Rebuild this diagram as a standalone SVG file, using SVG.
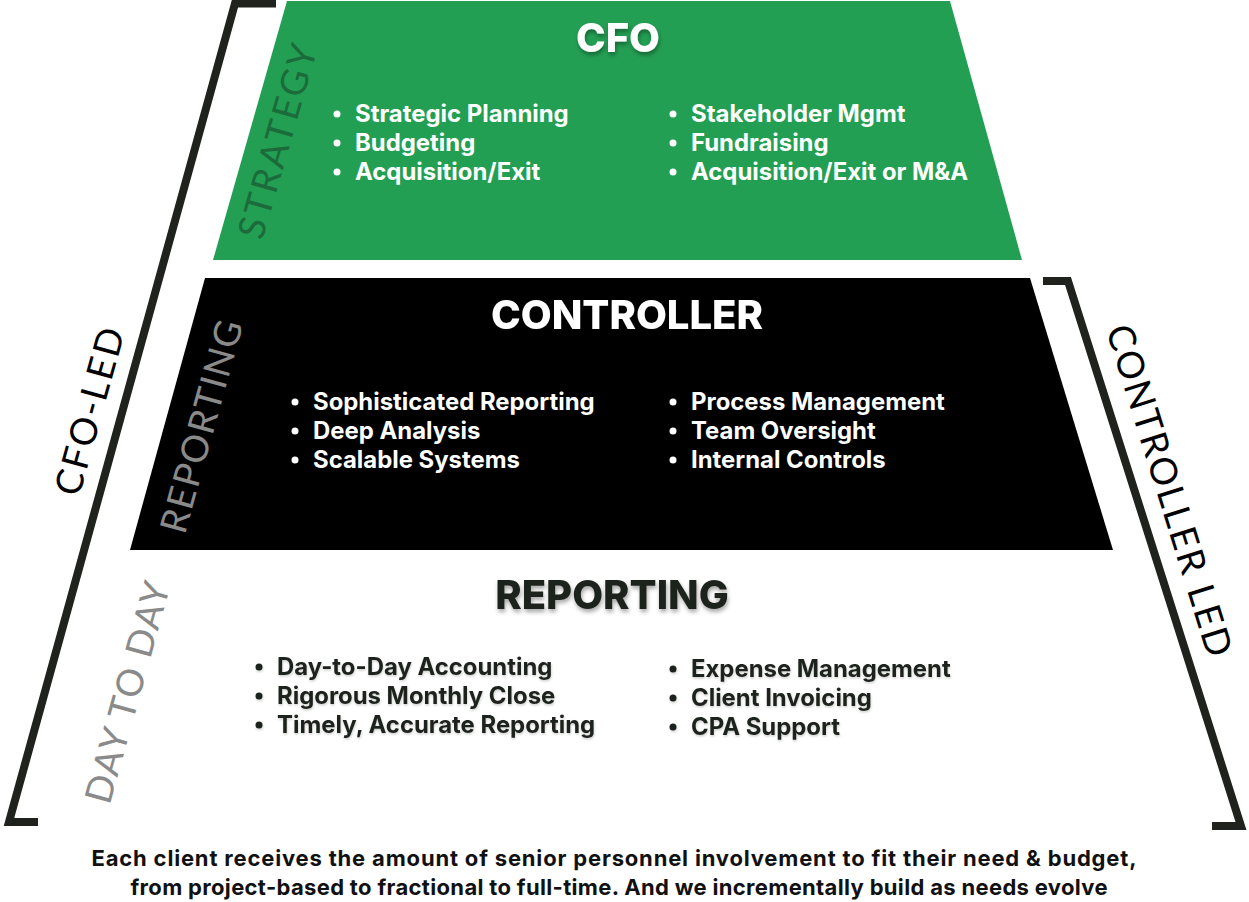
<svg xmlns="http://www.w3.org/2000/svg" width="1249" height="902" viewBox="0 0 1249 902">
<defs>
<filter id="sh" x="-10%" y="-30%" width="120%" height="170%">
<feDropShadow dx="1" dy="3" stdDeviation="2" flood-color="#000" flood-opacity="0.35"/>
</filter>
<filter id="sh2" x="-10%" y="-30%" width="120%" height="170%">
<feDropShadow dx="0.5" dy="1.5" stdDeviation="1" flood-color="#000" flood-opacity="0.2"/>
</filter>
</defs>
<style>
.title{font-family:Inter,"Liberation Sans",sans-serif;font-weight:800;font-size:40px;text-anchor:middle}
.item{font-family:Inter,"Liberation Sans",sans-serif;font-weight:700;font-size:23.9px}
.side{font-family:Lato,"Open Sans",sans-serif;font-weight:400;font-size:37px;text-anchor:middle;dominant-baseline:central}
.bracket{fill:none;stroke:#1f221d;stroke-width:8;stroke-linejoin:miter}
.foot{font-family:Inter,"Liberation Sans",sans-serif;font-weight:700;font-size:22px;fill:#111;text-anchor:middle}
</style>
<rect width="1249" height="902" fill="#fff"/>
<g id="connectors">
<polyline id="cfo-led-bracket" class="bracket" points="276,3.5 235,3.5 9,822 38,822"/>
<polyline id="controller-led-bracket" class="bracket" points="1043,281 1068,281 1241,826 1212,826"/>
</g>
<g id="cfo">
<polygon points="287,1 950,1 1022,260 213,260" fill="#239f53"/>
<text class="side" transform="translate(276,141) rotate(-74)" fill="#1c6b3b" textLength="200">STRATEGY</text>
<text class="title" x="618" y="52" fill="#fff" filter="url(#sh)">CFO</text>
<g class="item" fill="#fff">
<circle cx="337" cy="114" r="3.5"/><circle cx="337" cy="143" r="3.5"/><circle cx="337" cy="172" r="3.5"/>
<circle cx="673" cy="114" r="3.5"/><circle cx="673" cy="143" r="3.5"/><circle cx="673" cy="172" r="3.5"/>
<text x="355" y="122">Strategic Planning</text>
<text x="355" y="151">Budgeting</text>
<text x="355" y="180">Acquisition/Exit</text>
<text x="691" y="122">Stakeholder Mgmt</text>
<text x="691" y="151">Fundraising</text>
<text x="691" y="180">Acquisition/Exit or M&amp;A</text>
</g>
</g>
<g id="controller">
<polygon points="205,278 1030,278 1113,550 130,550" fill="#000"/>
<text class="side" transform="translate(200,426) rotate(-74.5)" fill="#8a8a8a" textLength="219">REPORTING</text>
<text class="title" x="627" y="329" fill="#fff" filter="url(#sh)">CONTROLLER</text>
<g class="item" fill="#fff">
<circle cx="295" cy="402" r="3.5"/><circle cx="295" cy="431" r="3.5"/><circle cx="295" cy="460" r="3.5"/>
<circle cx="673" cy="402" r="3.5"/><circle cx="673" cy="431" r="3.5"/><circle cx="673" cy="460" r="3.5"/>
<text x="313" y="410">Sophisticated Reporting</text>
<text x="313" y="439">Deep Analysis</text>
<text x="313" y="468">Scalable Systems</text>
<text x="691" y="410">Process Management</text>
<text x="691" y="439">Team Oversight</text>
<text x="691" y="468">Internal Controls</text>
</g>
</g>
<g id="reporting">
<text class="side" transform="translate(126,692) rotate(-74.5)" fill="#8a8a8a" textLength="228">DAY TO DAY</text>
<text class="title" x="612" y="609" fill="#1f221d" filter="url(#sh)">REPORTING</text>
<g class="item" fill="#1f221d" filter="url(#sh2)">
<circle cx="259" cy="667" r="3.5"/><circle cx="259" cy="696" r="3.5"/><circle cx="259" cy="725" r="3.5"/>
<circle cx="673" cy="669" r="3.5"/><circle cx="673" cy="698" r="3.5"/><circle cx="673" cy="727" r="3.5"/>
<text x="277" y="675">Day-to-Day Accounting</text>
<text x="277" y="704">Rigorous Monthly Close</text>
<text x="277" y="733">Timely, Accurate Reporting</text>
<text x="691" y="677">Expense Management</text>
<text x="691" y="706">Client Invoicing</text>
<text x="691" y="735">CPA Support</text>
</g>
</g>
<g id="cfo-led-label">
<text class="side" transform="translate(88,411) rotate(-74.5)" fill="#000" textLength="172">CFO-LED</text>
</g>
<g id="controller-led-label">
<text class="side" transform="translate(1171,490) rotate(72.7)" fill="#000" textLength="345">CONTROLLER LED</text>
</g>
<g id="footer">
<text class="foot" x="614" y="866" textLength="1045">Each client receives the amount of senior personnel involvement to fit their need &amp; budget,</text>
<text class="foot" x="619" y="895" textLength="977">from project-based to fractional to full-time. And we incrementally build as needs evolve</text>
</g>
</svg>
